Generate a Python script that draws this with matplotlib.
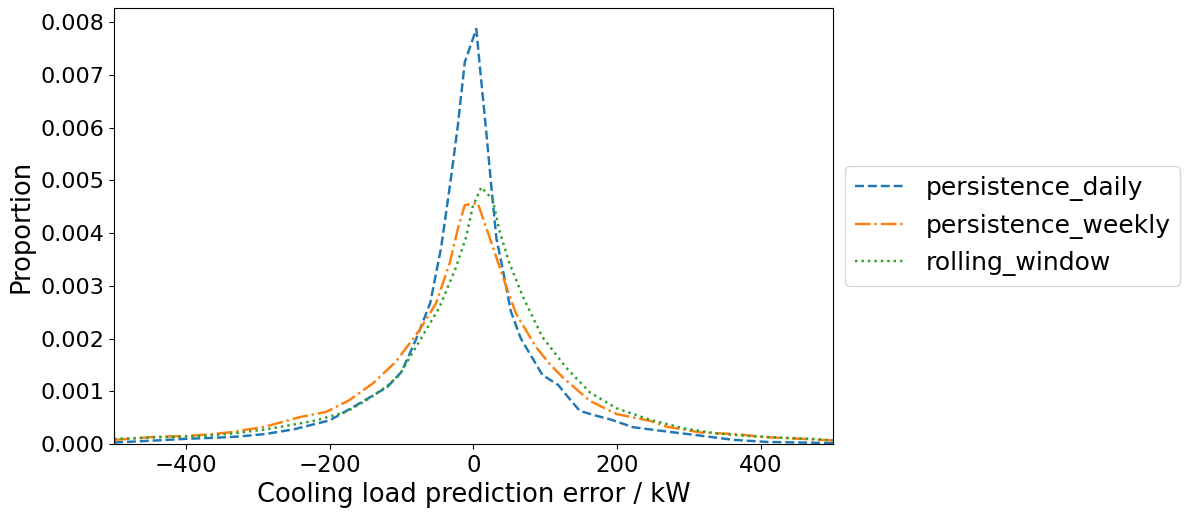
import matplotlib
matplotlib.use("Agg")
import matplotlib.pyplot as plt
from matplotlib.ticker import MultipleLocator

# persistence_daily
daily_x = [-500, -470, -440, -400, -360, -330, -290, -250, -200, -160, -120, -100, -80, -60,
           -45, -33, -22, -12, 4, 9, 18, 25, 32, 41, 52, 66, 96, 118, 136, 148, 170, 190,
           222, 268, 316, 362, 410, 455, 500]
daily_y = [0.00003, 0.00005, 0.00007, 0.00010, 0.00012, 0.00014, 0.00019, 0.00028, 0.00045,
           0.00076, 0.00108, 0.00137, 0.00198, 0.00268, 0.00372, 0.00487, 0.00600, 0.00724,
           0.00787, 0.00715, 0.00590, 0.00487, 0.00390, 0.00330, 0.00252, 0.00200, 0.00131,
           0.00112, 0.00082, 0.00063, 0.00054, 0.00047, 0.00032, 0.00024, 0.00016, 0.00008,
           0.00004, 0.00003, 0.00002]

# persistence_weekly
weekly_x = [-500, -470, -440, -405, -370, -335, -290, -242, -205, -173, -140, -108, -75, -52,
            -33, -22, -12, 6, 27, 41, 59, 87, 106, 124, 145, 162, 199, 246, 269, 316, 363,
            409, 455, 500]
weekly_y = [0.00008, 0.00011, 0.00014, 0.00015, 0.00018, 0.00023, 0.00033, 0.00051, 0.00061,
            0.00083, 0.00115, 0.00156, 0.00216, 0.00267, 0.00343, 0.00406, 0.00453, 0.00457,
            0.00374, 0.00317, 0.00248, 0.00184, 0.00152, 0.00127, 0.00102, 0.00082, 0.00057,
            0.00044, 0.00033, 0.00022, 0.00019, 0.00013, 0.00010, 0.00007]

# rolling_window
rolling_x = [-500, -470, -440, -380, -335, -289, -250, -219, -177, -149, -121, -103, -66, -47,
             -24, -10, -1, 11, 27, 36, 50, 69, 96, 129, 162, 199, 246, 292, 339, 385, 430,
             470, 500]
rolling_y = [0.00010, 0.00011, 0.00013, 0.00015, 0.00020, 0.00028, 0.00037, 0.00045, 0.00061,
             0.00083, 0.00109, 0.00131, 0.00216, 0.00260, 0.00336, 0.00393, 0.00450, 0.00487,
             0.00463, 0.00406, 0.00343, 0.00279, 0.00203, 0.00145, 0.00098, 0.00068, 0.00046,
             0.00030, 0.00020, 0.00015, 0.00012, 0.00010, 0.00007]

plt.rcParams['font.size'] = 18.5
plt.rcParams['xtick.labelsize'] = 16.5
plt.rcParams['ytick.labelsize'] = 16
plt.rcParams['lines.linewidth'] = 1.75

fig = plt.figure(figsize=(11.88, 5.14), dpi=100)
ax = fig.add_axes([0.096, 0.136, 0.605, 0.848])

ax.plot(daily_x, daily_y, '--', label='persistence_daily')
ax.plot(weekly_x, weekly_y, '-.', label='persistence_weekly')
ax.plot(rolling_x, rolling_y, ':', label='rolling_window')

ax.set_xlim(-500, 500)
ax.set_ylim(bottom=0)
ax.yaxis.set_major_locator(MultipleLocator(0.001))
ax.set_xlabel('Cooling load prediction error / kW')
ax.set_ylabel('Proportion')
ax.legend(loc='center left', bbox_to_anchor=(1, 0.5), fontsize=18)

fig.savefig('out.png', dpi=100)
